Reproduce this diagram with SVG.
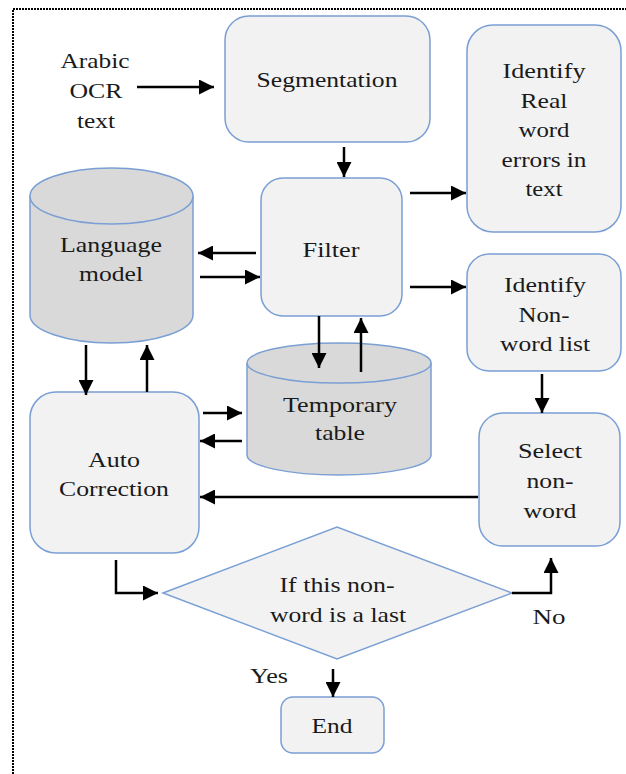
<svg xmlns="http://www.w3.org/2000/svg" width="626" height="774" viewBox="0 0 626 774">
<defs>
<marker id="ah" markerUnits="userSpaceOnUse" markerWidth="15" markerHeight="15" refX="15" refY="7.5" orient="auto">
<path d="M0,0 L15,7.5 L0,15 z" fill="#000"/>
</marker>
<style>
.box{fill:#f2f2f2;stroke:#7a9fd4;stroke-width:1.5}
.cyl{fill:#d9d9d9;stroke:#7a9fd4;stroke-width:1.5}
.t{font-family:Liberation Serif, Times New Roman, Times, serif;font-size:22px;fill:#1a1a1a;text-anchor:middle}
.c{fill:none;stroke:#000;stroke-width:2.5}
.a{marker-end:url(#ah)}
</style>
</defs>
<rect width="626" height="774" fill="#fff"/>
<path d="M13,774 L13,9 L626,9" fill="none" stroke="#000" stroke-width="2" stroke-dasharray="2 1"/>

<g id="input">
<text class="t" x="95" y="68" textLength="69" lengthAdjust="spacingAndGlyphs">Arabic</text>
<text class="t" x="96" y="98" textLength="53" lengthAdjust="spacingAndGlyphs">OCR</text>
<text class="t" x="96" y="128" textLength="38" lengthAdjust="spacingAndGlyphs">text</text>
</g>

<g id="segmentation">
<rect class="box" x="225" y="16" width="205" height="126" rx="24"/>
<text class="t" x="327" y="87" textLength="141" lengthAdjust="spacingAndGlyphs">Segmentation</text>
</g>

<g id="identify-real">
<rect class="box" x="467" y="25" width="154" height="207" rx="26"/>
<text class="t" x="544" y="78" textLength="83" lengthAdjust="spacingAndGlyphs">Identify</text>
<text class="t" x="544" y="108" textLength="47" lengthAdjust="spacingAndGlyphs">Real</text>
<text class="t" x="544" y="137" textLength="51" lengthAdjust="spacingAndGlyphs">word</text>
<text class="t" x="544" y="167" textLength="85" lengthAdjust="spacingAndGlyphs">errors in</text>
<text class="t" x="544" y="196" textLength="37" lengthAdjust="spacingAndGlyphs">text</text>
</g>

<g id="filter">
<rect class="box" x="261" y="178" width="141" height="138" rx="22"/>
<text class="t" x="331" y="257" textLength="57" lengthAdjust="spacingAndGlyphs">Filter</text>
</g>

<g id="identify-nonword">
<rect class="box" x="467" y="254" width="154" height="117" rx="22"/>
<text class="t" x="545" y="292" textLength="82" lengthAdjust="spacingAndGlyphs">Identify</text>
<text class="t" x="544" y="322" textLength="51" lengthAdjust="spacingAndGlyphs">Non-</text>
<text class="t" x="545" y="351" textLength="90" lengthAdjust="spacingAndGlyphs">word list</text>
</g>

<g id="language-model">
<path class="cyl" d="M30,196 L30,315 A81.5,28 0 0 0 193,315 L193,196"/>
<ellipse class="cyl" cx="111.5" cy="196" rx="81.5" ry="28"/>
<text class="t" x="111" y="252" textLength="102" lengthAdjust="spacingAndGlyphs">Language</text>
<text class="t" x="111" y="281" textLength="64" lengthAdjust="spacingAndGlyphs">model</text>
</g>

<g id="temporary-table">
<path class="cyl" d="M247,363 L247,455 A92,20 0 0 0 431,455 L431,363"/>
<ellipse class="cyl" cx="339" cy="363" rx="92" ry="20"/>
<text class="t" x="340" y="412" textLength="114" lengthAdjust="spacingAndGlyphs">Temporary</text>
<text class="t" x="340" y="440" textLength="50" lengthAdjust="spacingAndGlyphs">table</text>
</g>

<g id="auto-correction">
<rect class="box" x="30" y="392" width="169" height="161" rx="26"/>
<text class="t" x="114" y="467" textLength="52" lengthAdjust="spacingAndGlyphs">Auto</text>
<text class="t" x="114" y="496" textLength="110" lengthAdjust="spacingAndGlyphs">Correction</text>
</g>

<g id="select-nonword">
<rect class="box" x="479" y="413" width="141" height="133" rx="24"/>
<text class="t" x="550" y="458" textLength="64" lengthAdjust="spacingAndGlyphs">Select</text>
<text class="t" x="550" y="488" textLength="47" lengthAdjust="spacingAndGlyphs">non-</text>
<text class="t" x="550" y="518" textLength="53" lengthAdjust="spacingAndGlyphs">word</text>
</g>

<g id="decision">
<polygon class="box" points="163,593 337,527 512,593 337,659"/>
<text class="t" x="337" y="592" textLength="115" lengthAdjust="spacingAndGlyphs">If this non-</text>
<text class="t" x="338" y="622" textLength="136" lengthAdjust="spacingAndGlyphs">word is a last</text>
</g>

<g id="end">
<rect class="box" x="281" y="697" width="103" height="56" rx="12"/>
<text class="t" x="332" y="733" textLength="41" lengthAdjust="spacingAndGlyphs">End</text>
</g>

<g id="labels">
<text class="t" x="269" y="683" textLength="38" lengthAdjust="spacingAndGlyphs">Yes</text>
<text class="t" x="549" y="624" textLength="33" lengthAdjust="spacingAndGlyphs">No</text>
</g>

<g id="connectors">
<line class="c a" x1="137" y1="87" x2="214" y2="87"/>
<line class="c a" x1="344" y1="147" x2="344" y2="177"/>
<line class="c a" x1="410" y1="193" x2="466" y2="193"/>
<line class="c a" x1="410" y1="287" x2="466" y2="287"/>
<line class="c a" x1="256" y1="253" x2="198" y2="253"/>
<line class="c a" x1="200" y1="277" x2="260" y2="277"/>
<line class="c a" x1="86" y1="345" x2="86" y2="395"/>
<line class="c a" x1="147" y1="392" x2="147" y2="345"/>
<line class="c a" x1="319" y1="316" x2="319" y2="368"/>
<line class="c a" x1="361" y1="372" x2="361" y2="318"/>
<line class="c a" x1="203" y1="413" x2="242" y2="413"/>
<line class="c a" x1="242" y1="441" x2="200" y2="441"/>
<line class="c a" x1="478" y1="497" x2="200" y2="497"/>
<line class="c a" x1="542" y1="374" x2="542" y2="413"/>
<polyline class="c a" points="116,560 116,593 158,593"/>
<polyline class="c a" points="512,593 551,593 551,558"/>
<line class="c a" x1="333" y1="669" x2="333" y2="697"/>
</g>
</svg>
